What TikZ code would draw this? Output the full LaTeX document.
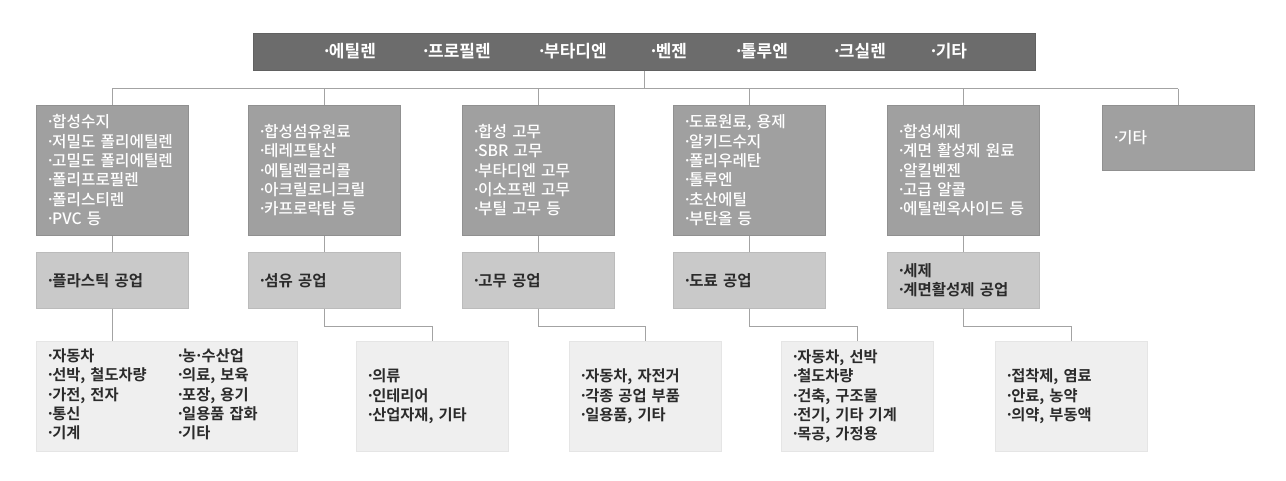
\documentclass[tikz,border=0pt]{standalone}
\usepackage{fontspec}
\setmainfont{Noto Sans CJK KR}[BoldFont={Noto Sans CJK KR Bold}]
\newfontfamily\medfont{Noto Sans CJK KR Medium}
\usetikzlibrary{positioning}
\newcommand\dt{\leavevmode\kern.1em·\kern-.17em}
\definecolor{bargray}{HTML}{6C6C6C}
\definecolor{srcgray}{HTML}{A0A0A0}
\definecolor{indgray}{HTML}{C9C9C9}
\definecolor{usegray}{HTML}{EFEFEF}
\definecolor{linegray}{HTML}{A3A3A3}
\definecolor{ink}{HTML}{2B2B2B}
\tikzset{
  link/.style={draw=linegray, line width=0.9pt},
  box/.style={anchor=north west, inner sep=0pt, inner xsep=8pt, align=left,
    text width=136pt, font=\fontsize{15.5}{19.4}\selectfont},
  src/.style={box, fill=srcgray, draw=srcgray!90!black, line width=0.5pt,
    text=white, minimum height=130pt, font=\fontsize{15.7}{19.4}\selectfont\medfont},
  ind/.style={box, fill=indgray, draw=indgray!93!black, line width=0.5pt,
    text=ink, minimum height=56pt, font=\fontsize{15.5}{19.4}\selectfont\bfseries},
  use/.style={box, fill=usegray, draw=usegray!96!black, line width=0.5pt,
    text=ink, minimum height=110pt, font=\fontsize{15.3}{19.4}\selectfont\bfseries},
}

\begin{document}
\begin{tikzpicture}[x=1pt, y=-1pt]
  \useasboundingbox (0,0) rectangle (1286,480);
  \node [fill=bargray, draw=bargray!90!black, line width=0.5pt, anchor=north west,
    minimum width=782pt, minimum height=37pt, inner sep=0pt] (top) at (253,33) {};
  \foreach \x/\t in {348/에틸렌, 455/프로필렌, 571/부타디엔, 667/벤젠,
      760/톨루엔, 858/크실렌, 947/기타}
    \node [text=white, font=\fontsize{17}{20}\selectfont\bfseries] at (\x,51) {\dt\t};

  \node [src] (s1) at (36,105) {\dt{}합성수지\\\dt{}저밀도 폴리에틸렌\\\dt{}고밀도 폴리에틸렌\\\dt{}폴리프로필렌\\\dt{}폴리스티렌\\\dt{}PVC 등};
  \node [src] (s2) at (248,105) {\dt{}합성섬유원료\\\dt{}테레프탈산\\\dt{}에틸렌글리콜\\\dt{}아크릴로니크릴\\\dt{}카프로락탐 등};
  \node [src] (s3) at (462,105) {\dt{}합성 고무\\\dt{}SBR 고무\\\dt{}부타디엔 고무\\\dt{}이소프렌 고무\\\dt{}부틸 고무 등};
  \node [src] (s4) at (673,105) {\dt{}도료원료, 용제\\\dt{}알키드수지\\\dt{}폴리우레탄\\\dt{}톨루엔\\\dt{}초산에틸\\\dt{}부탄올 등};
  \node [src] (s5) at (887,105) {\dt{}합성세제\\\dt{}계면 활성제 원료\\\dt{}알킬벤젠\\\dt{}고급 알콜\\\dt{}에틸렌옥사이드 등};
  \node [src, minimum height=65pt] (s6) at (1102,105) {\dt{}기타};

  \node [ind] (i1) at (36,252) {\dt{}플라스틱 공업};
  \node [ind] (i2) at (248,252) {\dt{}섬유 공업};
  \node [ind] (i3) at (462,252) {\dt{}고무 공업};
  \node [ind] (i4) at (673,252) {\dt{}도료 공업};
  \node [ind] (i5) at (887,252) {\dt{}세제\\\dt{}계면활성제 공업};

  \node [use, text width=245pt] (u1) at (36,341) {\begin{tabular}{@{}p{130pt}@{}l@{}}
    \dt{}자동차 & \dt{}농{\kern-.12em·\kern-.12em}수산업\\ \dt{}선박, 철도차량 & \dt{}의료, 보육\\ \dt{}가전, 전자 & \dt{}포장, 용기\\
    \dt{}통신 & \dt{}일용품 잡화\\ \dt{}기계 & \dt{}기타\end{tabular}};
  \node [use] (u2) at (356,341) {\dt{}의류\\\dt{}인테리어\\\dt{}산업자재, 기타};
  \node [use] (u3) at (569,341) {\dt{}자동차, 자전거\\\dt{}각종 공업 부품\\\dt{}일용품, 기타};
  \node [use] (u4) at (781,341) {\dt{}자동차, 선박\\\dt{}철도차량\\\dt{}건축, 구조물\\\dt{}전기, 기타 기계\\\dt{}목공, 가정용};
  \node [use] (u5) at (995,341) {\dt{}접착제, 염료\\\dt{}안료, 농약\\\dt{}의약, 부동액};

  \draw [link] (top.south) -- ++(0,18) coordinate (bus);
  \draw [link] (s1.north |- bus) -- (s6.north |- bus);
  \foreach \n in {s1,s2,s3,s4,s5,s6}
    \draw [link] (\n.north |- bus) -- (\n.north);
  \foreach \n in {1,...,5}
    \draw [link] (s\n.south) -- (i\n.north);
  \draw [link] (i1.south) -- (i1.south |- u1.north);
  \foreach \n in {2,...,5}
    \draw [link] (i\n.south) -- ++(0,18) -| (u\n.north);
\end{tikzpicture}
\end{document}
